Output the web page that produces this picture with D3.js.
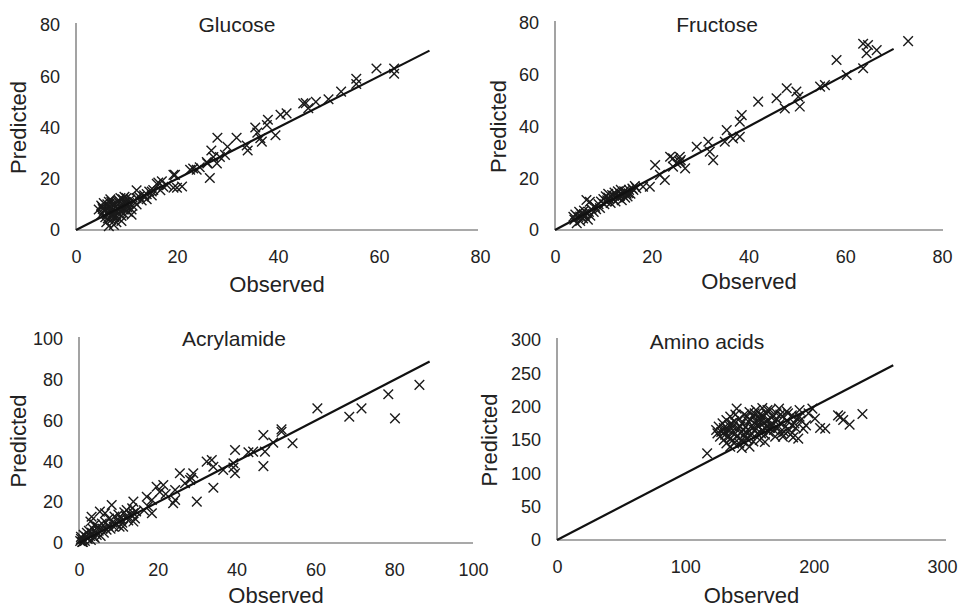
<!DOCTYPE html>
<html>
<head>
<meta charset="utf-8">
<script src="https://cdn.jsdelivr.net/npm/d3@7"></script>
<style>
  html, body { margin: 0; padding: 0; background: #fff; }
  svg { display: block; }
  text { font-family: "Liberation Sans", Arial, sans-serif; fill: #222; }
</style>
</head>
<body>
<svg id="chart" width="961" height="608"></svg>
<script>
// ---------------- DATA ----------------
const panelTitles = ["Glucose", "Fructose", "Acrylamide", "Amino acids"];
const axisMax = [80, 80, 100, 300];
const xTicks = [[0, 20, 40, 60, 80], [0, 20, 40, 60, 80], [0, 20, 40, 60, 80, 100], [0, 100, 200, 300]];
const yTicks = [[0, 20, 40, 60, 80], [0, 20, 40, 60, 80], [0, 20, 40, 60, 80, 100], [0, 50, 100, 150, 200, 250, 300]];
const fitLineEnd = [70, 70, 89, 262];
const xTitle = "Observed";
const yTitle = "Predicted";

// [observed, predicted]
const glucosePoints = [
  [4.5,8],[5,6],[5.2,9],[5.5,7.5],[5.8,5],[6,8.5],[6,3],[6.2,10],[6.3,6.5],[6.5,1.5],[6.6,9],[6.8,7],[7,4],[7,11],
  [7.2,8],[7.3,6],[7.5,9.5],[7.6,5],[7.8,7.5],[8,10.5],[8,3],[8.2,8.5],[8.4,6.5],[8.5,11.5],[8.7,9],[8.9,7.5],[9,5.5],
  [9.2,10],[9.3,12],[9.5,8],[9.7,11],[10,9.5],[10,12.5],[10.3,7],[10.5,10.5],[10.8,12],[11,6],[11.2,9.5],[11.5,11],
  [12,10],[12,12.5],[12.5,13],[13,11.5],[13.5,13.5],[14,12],[14.5,15],[15,13.5],[6.8,12],[5.5,10.5],[7.5,2],[9,3.5],
  [5,9.5],[5.8,8],[6.2,7],[6.5,11],[6.9,8.5],[7.2,10],[7.4,6.8],[7.9,9],[8.1,5],[8.3,11],[8.6,7.8],[9.1,9.2],[9.4,6.5],
  [9.9,10.8],[10.2,8.8],[6.3,4.5],[7.1,5.5],[8.8,12.5],[5.3,8.2],[9.6,13],
  [11,8],[12,15.5],[13.4,13],[14,14],[15,15],[15.3,15.6],[16,18],[16.3,18.5],[16.7,15.5],[17,19],[17.3,16.9],[18,17.5],
  [19.3,16.5],[19.3,21.5],[20,16.5],[21,17],[19.6,21.5],[22.6,23.5],[23.2,24],[23.9,23.5],[24.5,24.5],[26,26],[25.9,26.5],
  [26.5,20.3],[26.8,31],[27.2,28.5],[27.9,26],[28,36],[28.5,28.5],[29.5,29.3],[30,32.5],[31.8,36],[33.8,33],[34,31],
  [35.5,40],[35.9,38],[36.5,35.8],[36.8,34.5],[37.8,41],[38,43],[39.5,37],[40.5,45],[41.7,45.5],[45,49.4],[45.5,49.5],
  [46,47.5],[47.5,50],[50,51],[52.5,54],[55.5,59],[55.5,57],[59.5,63],[63,63],[63,61]
];
const fructosePoints = [
  [4,4],[4.2,6],[4.5,2.6],[4.8,5],[5,7],[5.2,3.5],[5.5,6],[5.8,4.5],[6,7.5],[6.2,5.5],[6.5,6.5],[6.8,4],[7,7],[7.3,5.5],
  [7.5,8],[8,7],[8.3,9],[8.5,8],[9,10],[9.3,8.5],[9.5,11],[10,12],[10.2,10],[10.5,13],[10.8,11.5],[11,14],[11.2,12],
  [11.5,10.5],[11.8,13.5],[12,12],[12.3,14.5],[12.5,11],[12.8,13],[13,15],[13.2,12.5],[13.5,14],[13.8,11.5],[14,13.5],
  [14.3,15],[14.5,12.5],[14.8,14],[15,13],[15.3,15.5],[15.6,14],[16,16],[16.5,17],[6.5,11.6],[7.2,10.9],[3.8,5.1],
  [11,12.5],[12.2,13.2],[13.4,13.2],[14.6,14.6],[15.2,14.2],[10.6,11],[5.2,5.2],[6,6.2],[13.6,15.5],[16.8,16.2],
  [16.2,15.5],[18.2,16.7],[19.6,16.7],[20.7,25.1],[21.7,21.3],[22.7,19.3],[23.8,28.3],[24.4,24.5],[24.4,27.7],[25.1,25.8],
  [25.8,28.3],[25.8,26.4],[26.9,23.8],[26,27],[29.3,32.2],[31.7,34.1],[32,30.3],[32.7,27],[35.1,34.1],[35.5,38.6],
  [36.8,35.4],[38.2,36],[38.2,41.9],[38.6,44.4],[42,49.6],[45.8,50.9],[47.5,47],[47.9,54.8],[49.9,53.5],[50.3,51.5],
  [50.6,47.7],[54.8,55.4],[55.8,56],[58.2,65.7],[60.3,59.9],[63.7,62.5],[63.7,72],[64.7,71.5],[64.4,68.3],[66.5,69.5],
  [73,73]
];
const acrylamidePoints = [
  [0.3,1],[0.5,3],[0.8,0.5],[1,2],[1.2,4],[1.5,1],[1.8,3],[2,5],[2.2,2],[2.5,6],[2.8,3.5],[3,1.5],[3.2,12.9],[3.3,5],
  [3.5,7],[3.8,3],[4,9],[4.2,5.5],[4.5,4],[4.8,8],[5,6],[5.3,15.4],[5.5,3.5],[5.8,9.5],[6,7],[6.3,5],[6.6,14.6],[6.8,10],
  [7,6.5],[7.3,8.5],[7.6,12],[8,7],[8.3,18.6],[8.5,10],[8.8,8],[9,13],[9.5,9],[9.8,11.5],[10,14],[10.3,8],[10.6,12],
  [11,10],[11.2,8],[11.5,15],[12,13],[12.1,16.2],[12.5,11],[13,14],[13.5,17],[13.8,20.3],[13.8,14.6],[13.8,10.5],
  [14.2,12],[14.5,15.5],[2.9,10.5],[1,0.5],[0.5,2],[4,2.5],
  [17.2,22.7],[18.5,21.1],[18.5,14.6],[17.5,18],[16.5,16],[19.7,27.6],[20.5,25],[21.4,28.4],[22,24],[23.9,19.5],
  [24.4,21.1],[24.4,26],[25.6,34.2],[26.9,29.3],[28.2,30.9],[29,34.2],[28.5,32],[29.9,20.3],[32.4,39.9],[33.7,40.7],
  [34.1,37.4],[34.1,27.1],[36.6,35.8],[39.2,39.1],[39.2,37],[39.6,34.2],[39.6,45.6],[43,44.5],[44.2,44.8],[46.8,52.9],
  [47.2,44.8],[46.8,37.7],[49.3,49.2],[51.4,55.7],[51.4,54.5],[54.2,48.9],[60.5,66],[68.6,61.9],[71.7,66],[78.5,72.9],
  [80.2,61.1],[86.4,77.5]
];
const aminoPoints = [
  [117,130],[124,165],[125,160],[126,170],[127,155],[128,162],[129,175],[130,150],[130,168],[131,158],[132,180],[132,145],
  [133,165],[134,172],[134,155],[135,140],[135,185],[136,162],[137,150],[137,170],[138,178],[138,145],[139,160],[140,197],
  [140,155],[141,168],[142,145],[142,182],[143,160],[144,150],[144,175],[145,165],[146,158],[146,188],[147,170],[148,152],
  [149,178],[150,163],[150,192],[151,157],[152,172],[153,185],[153,148],[154,165],[155,195],[155,178],[156,160],[157,170],
  [158,188],[158,150],[159,182],[160,165],[160,198],[161,175],[162,147],[162,158],[163,190],[164,170],[165,180],[165,162],
  [166,195],[167,172],[168,185],[169,165],[170,178],[170,155],[171,190],[172,168],[173,197],[174,175],[175,160],[176,155],
  [176,185],[178,170],[179,193],[180,178],[181,165],[182,158],[183,187],[184,154],[185,175],[186,168],[188,152],[189,185],
  [189,195],[190,180],[192,167],[194,172],[196,190],[199,197],[201,182],[205,168],[209,167],[219,187],[221,185],[223,180],
  [228,173],[238,189],[150,140],[145,148],[157,182],[163,178],[168,172],[148,185],
  [136,175],[139,188],[143,170],[147,162],[151,180],[154,190],[156,172],[159,160],[161,185],[164,195],[166,168],[171,182],
  [174,188],[177,162],[180,190],[183,172],[187,182],[131,163],[135,152],[144,138],[152,168],[158,176],[162,168]
];
const allPoints = [glucosePoints, fructosePoints, acrylamidePoints, aminoPoints];

// ---------------- LAYOUT ----------------
const layout = [
  { x0: 76,  x1: 480, y0: 230, y1: 25,  xEnd: 478, title: [237, 32],  yTitleX: 18,  xTitleY: 292 },
  { x0: 555, x1: 942, y0: 230, y1: 23,  xEnd: 943, title: [717, 32],  yTitleX: 498, xTitleY: 289 },
  { x0: 79,  x1: 473, y0: 543, y1: 339, xEnd: 473, title: [234, 346], yTitleX: 18,  xTitleY: 603 },
  { x0: 557, x1: 942, y0: 540, y1: 340, xEnd: 946, title: [707, 349], yTitleX: 489, xTitleY: 603 }
];

const svg = d3.select("#chart");
const textColor = "#222";
const axisColor = "#8c8c8c";

layout.forEach((L, i) => {
  const x = d3.scaleLinear().domain([0, axisMax[i]]).range([L.x0, L.x1]);
  const y = d3.scaleLinear().domain([0, axisMax[i]]).range([L.y0, L.y1]);
  const g = svg.append("g");

  const xAxis = d3.axisBottom(x).tickValues(xTicks[i]).tickSize(0).tickPadding(20).tickFormat(d3.format("d"));
  const gx = g.append("g").attr("transform", `translate(0,${L.y0})`).call(xAxis);
  gx.select(".domain").remove();
  gx.selectAll("text").attr("font-size", 18).attr("fill", textColor)
    .attr("font-family", '"Liberation Sans", Arial, sans-serif');

  const yAxis = d3.axisLeft(y).tickValues(yTicks[i]).tickSize(0).tickPadding(16).tickFormat(d3.format("d"));
  const gy = g.append("g").attr("transform", `translate(${L.x0},0)`).call(yAxis);
  gy.select(".domain").remove();
  gy.selectAll("text").attr("font-size", 18).attr("fill", textColor)
    .attr("font-family", '"Liberation Sans", Arial, sans-serif');

  g.append("line").attr("x1", L.x0).attr("x2", L.xEnd).attr("y1", L.y0).attr("y2", L.y0)
    .attr("stroke", axisColor).attr("stroke-width", 1.6);
  g.append("line").attr("x1", L.x0).attr("x2", L.x0).attr("y1", L.y0).attr("y2", y(axisMax[i]) - 2)
    .attr("stroke", axisColor).attr("stroke-width", 1.6);

  g.append("g").selectAll("path").data(allPoints[i]).join("path")
    .attr("transform", d => `translate(${x(d[0])},${y(d[1])})`)
    .attr("d", "M-4.8,-4.8L4.8,4.8M-4.8,4.8L4.8,-4.8")
    .attr("stroke", "#1a1a1a").attr("stroke-width", 1.4).attr("fill", "none");

  g.append("line")
    .attr("x1", x(0)).attr("y1", y(0))
    .attr("x2", x(fitLineEnd[i])).attr("y2", y(fitLineEnd[i]))
    .attr("stroke", "#111").attr("stroke-width", 2.2);

  g.append("text").attr("x", L.title[0]).attr("y", L.title[1]).attr("text-anchor", "middle")
    .attr("font-size", 21).text(panelTitles[i]);
  g.append("text").attr("x", (L.x0 + L.xEnd) / 2).attr("y", L.xTitleY).attr("text-anchor", "middle")
    .attr("font-size", 22).text(xTitle);
  const yc = (L.y0 + y(axisMax[i])) / 2;
  g.append("text").attr("transform", `translate(${L.yTitleX + 8},${yc}) rotate(-90)`)
    .attr("text-anchor", "middle").attr("font-size", 22).text(yTitle);
});
</script>
</body>
</html>
